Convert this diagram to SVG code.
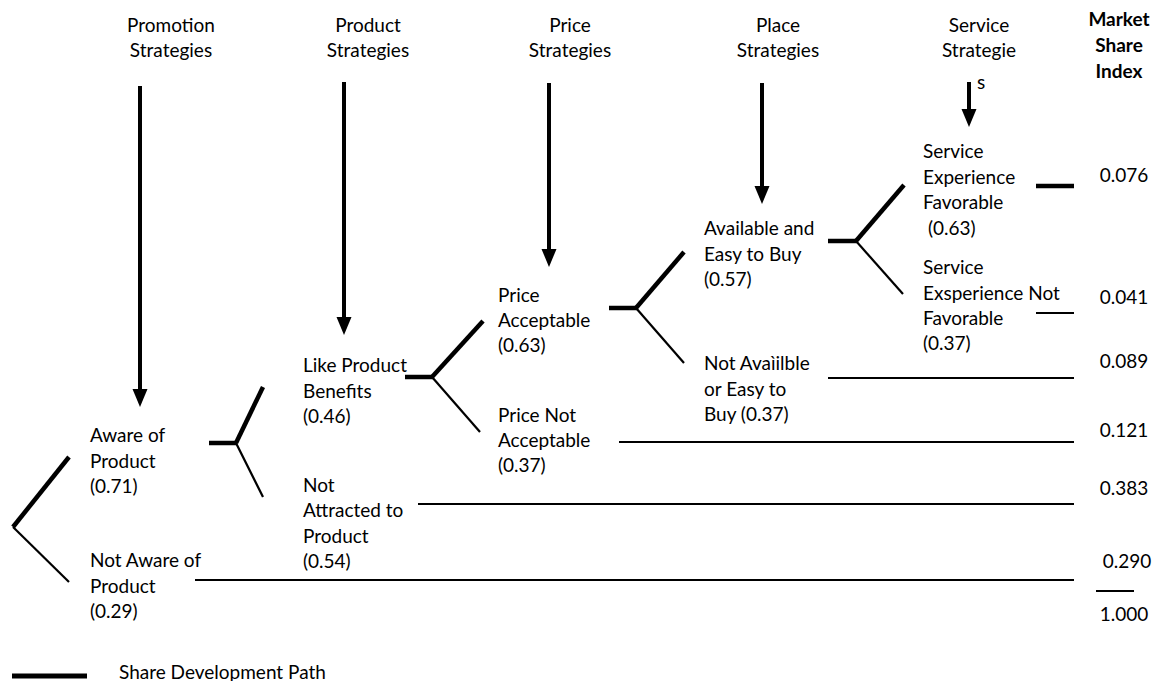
<svg xmlns="http://www.w3.org/2000/svg" width="1160" height="681" viewBox="0 0 1160 681">
  <defs>
    <style>
      text { font-family: Lato, "Liberation Sans", sans-serif; font-size: 19px; fill: #000; }
      .hdr { text-anchor: middle; }
      .bold { font-weight: bold; }
      .val { text-anchor: middle; }
      .thick { stroke: #000; stroke-width: 4.5; fill: none; }
      .thin { stroke: #000; stroke-width: 2.2; fill: none; }
      .shaft { stroke: #000; stroke-width: 4; fill: none; }
      .head { fill: #000; }
    </style>
  </defs>
  <rect width="1160" height="681" fill="#fff"/>

  <!-- column headings -->
  <g id="headers">
    <text class="hdr" x="171" y="32">Promotion</text>
    <text class="hdr" x="171" y="57">Strategies</text>
    <text class="hdr" x="368" y="32">Product</text>
    <text class="hdr" x="368" y="57">Strategies</text>
    <text class="hdr" x="570" y="32">Price</text>
    <text class="hdr" x="570" y="57">Strategies</text>
    <text class="hdr" x="778" y="32">Place</text>
    <text class="hdr" x="778" y="57">Strategies</text>
    <text class="hdr" x="979" y="32">Service</text>
    <text class="hdr" x="979" y="57">Strategie</text>
    <text x="977" y="89">s</text>
    <text class="hdr bold" x="1119" y="26">Market</text>
    <text class="hdr bold" x="1119" y="52">Share</text>
    <text class="hdr bold" x="1119" y="78">Index</text>
  </g>

  <!-- strategy arrows -->
  <g id="strategy-arrows">
    <line class="shaft" x1="140" y1="86" x2="140" y2="392"/>
    <polygon class="head" points="132.5,389 147.5,389 140,407"/>
    <line class="shaft" x1="344" y1="82" x2="344" y2="320"/>
    <polygon class="head" points="336.5,317 351.5,317 344,335"/>
    <line class="shaft" x1="549" y1="83" x2="549" y2="252"/>
    <polygon class="head" points="541.5,249 556.5,249 549,267"/>
    <line class="shaft" x1="762" y1="83" x2="762" y2="189"/>
    <polygon class="head" points="754.5,186 769.5,186 762,204"/>
    <line class="shaft" x1="969" y1="82" x2="969" y2="112"/>
    <polygon class="head" points="961.5,109 976.5,109 969,127"/>
  </g>

  <!-- branch connectors -->
  <g id="connectors">
    <!-- root split -->
    <line class="thick" x1="13" y1="527" x2="69" y2="457"/>
    <line class="thin" x1="13" y1="527" x2="69" y2="582"/>
    <!-- aware split -->
    <line class="thick" x1="209" y1="443" x2="237" y2="443"/>
    <line class="thick" x1="236" y1="443" x2="263" y2="387"/>
    <line class="thin" x1="236" y1="443" x2="263" y2="497"/>
    <!-- like product split -->
    <line class="thick" x1="405" y1="377" x2="433" y2="377"/>
    <line class="thick" x1="432" y1="377" x2="483" y2="321"/>
    <line class="thin" x1="432" y1="377" x2="480" y2="432"/>
    <!-- price acceptable split -->
    <line class="thick" x1="609" y1="308" x2="637" y2="308"/>
    <line class="thick" x1="636" y1="308" x2="684" y2="252"/>
    <line class="thin" x1="636" y1="308" x2="684" y2="363"/>
    <!-- available split -->
    <line class="thick" x1="828" y1="241" x2="857" y2="241"/>
    <line class="thick" x1="856" y1="241" x2="904" y2="185"/>
    <line class="thin" x1="856" y1="241" x2="903" y2="294"/>
    <!-- outcome lines -->
    <line class="thick" x1="1036" y1="186" x2="1074" y2="186"/>
    <line class="thin" x1="1036" y1="313" x2="1074" y2="313"/>
    <line class="thin" x1="828" y1="378" x2="1074" y2="378"/>
    <line class="thin" x1="619" y1="442" x2="1074" y2="442"/>
    <line class="thin" x1="418" y1="504" x2="1074" y2="504"/>
    <line class="thin" x1="195" y1="580" x2="1074" y2="580"/>
    <!-- total rule -->
    <line class="thin" x1="1096" y1="591" x2="1134" y2="591"/>
  </g>

  <!-- decision outcomes -->
  <g id="node-aware">
    <text x="90" y="442">Aware of</text>
    <text x="90" y="468">Product</text>
    <text x="90" y="493">(0.71)</text>
  </g>
  <g id="node-not-aware">
    <text x="90" y="567">Not Aware of</text>
    <text x="90" y="593">Product</text>
    <text x="90" y="618">(0.29)</text>
  </g>
  <g id="node-like-benefits">
    <text x="303" y="372">Like Product</text>
    <text x="303" y="398">Benefits</text>
    <text x="303" y="423">(0.46)</text>
  </g>
  <g id="node-not-attracted">
    <text x="303" y="492">Not</text>
    <text x="303" y="517">Attracted to</text>
    <text x="303" y="543">Product</text>
    <text x="303" y="568">(0.54)</text>
  </g>
  <g id="node-price-ok">
    <text x="498" y="302">Price</text>
    <text x="498" y="327">Acceptable</text>
    <text x="498" y="352">(0.63)</text>
  </g>
  <g id="node-price-not-ok">
    <text x="498" y="422">Price Not</text>
    <text x="498" y="447">Acceptable</text>
    <text x="498" y="472">(0.37)</text>
  </g>
  <g id="node-available">
    <text x="704" y="235">Available and</text>
    <text x="704" y="261">Easy to Buy</text>
    <text x="704" y="286">(0.57)</text>
  </g>
  <g id="node-not-available">
    <text x="704" y="370">Not Avaìilble</text>
    <text x="704" y="396">or Easy to</text>
    <text x="704" y="421">Buy (0.37)</text>
  </g>
  <g id="node-service-ok">
    <text x="923" y="158">Service</text>
    <text x="923" y="184">Experience</text>
    <text x="923" y="209">Favorable</text>
    <text x="928" y="235">(0.63)</text>
  </g>
  <g id="node-service-not-ok">
    <text x="923" y="274">Service</text>
    <text x="923" y="300">Exsperience Not</text>
    <text x="923" y="325">Favorable</text>
    <text x="923" y="350">(0.37)</text>
  </g>

  <!-- market share index values -->
  <g id="share-values">
    <text class="val" x="1124" y="182">0.076</text>
    <text class="val" x="1124" y="304">0.041</text>
    <text class="val" x="1124" y="368">0.089</text>
    <text class="val" x="1124" y="437">0.121</text>
    <text class="val" x="1124" y="495">0.383</text>
    <text class="val" x="1127" y="568">0.290</text>
    <text class="val" x="1124" y="621">1.000</text>
  </g>

  <!-- legend -->
  <g id="legend">
    <line stroke="#000" stroke-width="5" x1="12" y1="676" x2="87" y2="676"/>
    <text x="119" y="679">Share Development Path</text>
  </g>
</svg>
